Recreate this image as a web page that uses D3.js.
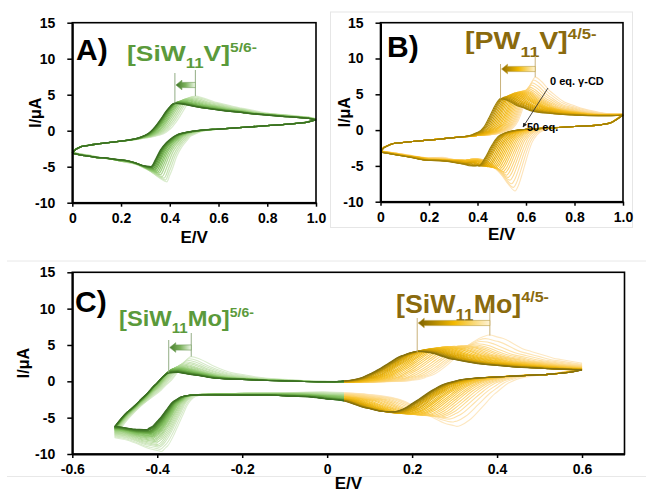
<!DOCTYPE html>
<html><head><meta charset="utf-8">
<script src="https://cdn.jsdelivr.net/npm/d3@7"></script>
<style>
html,body{margin:0;padding:0;background:#fff;}
svg{display:block;font-family:"Liberation Sans",Arial,sans-serif;}
</style></head><body>
<svg id="c" width="646" height="493"></svg>
<script>
// ================= DATA =================
const yTicks = [-10, -5, 0, 5, 10, 15];
const yTickLabels = ["-10", "-5", "0", "5", "10", "15"];
const xTicksAB = [0, 0.2, 0.4, 0.6, 0.8, 1.0];
const xTickLabelsAB = ["0", "0.2", "0.4", "0.6", "0.8", "1.0"];
const xTicksC = [-0.6, -0.4, -0.2, 0, 0.2, 0.4, 0.6];
const xTickLabelsC = ["-0.6", "-0.4", "-0.2", "0", "0.2", "0.4", "0.6"];

// Panel A  [SiW11V]5/6-  (0 eq -> 50 eq gamma-CD)
const A_oxE  = [0.505, 0.496, 0.487, 0.478, 0.469, 0.461, 0.454, 0.447, 0.441, 0.436, 0.432, 0.428, 0.425, 0.423, 0.421];
const A_oxI  = [4.8, 4.75, 4.65, 4.55, 4.45, 4.35, 4.25, 4.15, 4.07, 4.0, 3.95, 3.9, 3.85, 3.82, 3.8];
const A_redE = [0.388, 0.382, 0.376, 0.369, 0.362, 0.356, 0.350, 0.345, 0.340, 0.336, 0.332, 0.329, 0.326, 0.324, 0.322];
const A_redI = [-7.1, -6.85, -6.6, -6.35, -6.1, -5.9, -5.75, -5.6, -5.45, -5.35, -5.25, -5.15, -5.1, -5.05, -5.0];
const A_baseUp = [[0,-3.0],[0.015,-2.5],[0.04,-2.15],[0.1,-1.85],[0.2,-1.45],[0.3,-1.0],[0.4,-0.6],[0.5,-0.35],[0.6,-0.2],[0.7,-0.1],[0.8,-0.1],[0.9,-0.1],[0.97,-0.15],[1.0,-0.3]];
const A_baseDn = [[1.0,1.5],[0.96,1.15],[0.9,0.95],[0.8,0.7],[0.7,0.45],[0.6,0.22],[0.5,0.0],[0.4,-0.35],[0.3,-0.85],[0.2,-1.25],[0.1,-1.35],[0.03,-1.15],[0,-1.0]];

// Panel B  [PW11V]4/5-
const B_oxE  = [0.638,0.632,0.626,0.620,0.614,0.608,0.602,0.596,0.590,0.584,0.578,0.572,0.566,0.560,0.553,0.546,0.539,0.532,0.525,0.518,0.511,0.505,0.500,0.495];
const B_oxI  = [7.4,7.0,6.6,6.3,6.0,5.8,5.65,5.55,5.5,5.45,5.4,5.35,5.3,5.25,5.2,5.1,5.0,4.9,4.8,4.7,4.6,4.5,4.45,4.4];
const B_redE = [0.555,0.548,0.541,0.534,0.527,0.520,0.513,0.506,0.499,0.492,0.485,0.478,0.471,0.464,0.457,0.450,0.443,0.436,0.429,0.423,0.418,0.413,0.409,0.405];
const B_redI = [-8.5,-8.0,-7.5,-7.0,-6.6,-6.3,-6.0,-5.8,-5.6,-5.5,-5.4,-5.3,-5.25,-5.2,-5.15,-5.1,-5.1,-5.05,-5.0,-5.0,-5.0,-5.0,-5.0,-5.0];
const B_baseUp = [[0,-3.0],[0.015,-2.4],[0.05,-1.9],[0.1,-1.7],[0.2,-1.4],[0.3,-1.05],[0.4,-0.75],[0.5,-0.5],[0.6,-0.3],[0.7,-0.2],[0.8,-0.1],[0.9,0.0],[1.0,0.2]];
const B_baseDn = [[1.0,1.9],[0.95,1.0],[0.9,0.7],[0.8,0.5],[0.7,0.3],[0.6,0.1],[0.5,-0.2],[0.4,-0.7],[0.35,-1.4],[0.3,-1.7],[0.2,-2.0],[0.1,-1.7],[0.05,-1.5],[0,-1.3]];

// Panel C  [SiW11Mo]5/6- (green) and [SiW11Mo]4/5- (gold)
const Cg_oxE  = [-0.320,-0.325,-0.330,-0.334,-0.338,-0.342,-0.345,-0.348,-0.351,-0.353,-0.355,-0.357,-0.359,-0.361,-0.362,-0.364,-0.365,-0.366,-0.367,-0.368,-0.369,-0.370,-0.370,-0.371,-0.371,-0.372,-0.372,-0.373];
const Cg_oxI  = [3.4,3.1,2.9,2.7,2.55,2.4,2.3,2.2,2.1,2.0,1.95,1.9,1.85,1.8,1.75,1.7,1.65,1.6,1.55,1.5,1.45,1.42,1.38,1.35,1.3,1.27,1.23,1.2];
const Cg_redE = [-0.390,-0.393,-0.396,-0.398,-0.400,-0.402,-0.404,-0.406,-0.407,-0.409,-0.410,-0.411,-0.412,-0.413,-0.414,-0.415,-0.416,-0.417,-0.418,-0.419,-0.420,-0.420,-0.421,-0.422,-0.423,-0.423,-0.424,-0.425];
const Cg_redI = [-9.5,-9.2,-8.9,-8.7,-8.5,-8.3,-8.1,-7.95,-7.8,-7.65,-7.5,-7.4,-7.3,-7.2,-7.1,-7.0,-6.95,-6.9,-6.85,-6.8,-6.75,-6.7,-6.65,-6.6,-6.55,-6.5,-6.45,-6.4];
const Cy_oxE  = [0.383,0.372,0.362,0.352,0.342,0.333,0.324,0.315,0.307,0.299,0.291,0.284,0.277,0.270,0.264,0.258,0.252,0.247,0.242,0.237,0.233,0.229,0.225,0.222,0.219,0.216,0.214,0.212];
const Cy_oxI  = [6.3,5.8,5.4,5.1,4.95,4.85,4.8,4.8,4.75,4.75,4.7,4.7,4.65,4.6,4.55,4.5,4.45,4.4,4.35,4.3,4.25,4.2,4.15,4.1,4.08,4.05,4.02,4.0];
const Cy_redE = [0.305,0.296,0.287,0.278,0.269,0.261,0.253,0.245,0.238,0.231,0.224,0.218,0.212,0.206,0.200,0.195,0.190,0.185,0.181,0.177,0.173,0.170,0.167,0.164,0.162,0.160,0.158,0.156];
const Cy_redI = [-6.2,-5.6,-5.2,-5.0,-4.9,-4.85,-4.8,-4.75,-4.7,-4.7,-4.65,-4.6,-4.6,-4.55,-4.5,-4.5,-4.45,-4.4,-4.4,-4.35,-4.35,-4.3,-4.3,-4.25,-4.25,-4.2,-4.2,-4.2];
const C_baseUp = [[-0.5,-5.8],[-0.47,-3.9],[-0.44,-2.6],[-0.41,-1.6],[-0.38,-1.0],[-0.35,-0.7],[-0.3,-0.5],[-0.2,-0.35],[-0.1,-0.3],[0,-0.3],[0.1,-0.25],[0.2,-0.1],[0.3,0.1],[0.4,0.3],[0.5,0.5],[0.6,0.6]];
const C_baseDn = [[0.6,1.2],[0.55,1.05],[0.5,0.9],[0.4,0.6],[0.3,0.3],[0.2,0.0],[0.1,-0.4],[0,-0.8],[-0.1,-1.1],[-0.2,-1.35],[-0.3,-1.55],[-0.35,-1.7],[-0.4,-1.9],[-0.45,-2.2],[-0.5,-2.5]];

// wave shapes: [distance past peak along sweep (V), fraction of peak height]
const tOxA  = [[-0.2,0],[-0.15,0.03],[-0.12,0.09],[-0.1,0.18],[-0.08,0.33],[-0.06,0.52],[-0.035,0.78],[-0.015,0.95],[0,1],[0.03,0.96],[0.08,0.85],[0.18,0.7],[0.3,0.57],[0.45,0.47],[0.6,0.4]];
const tRedA = [[-0.2,0],[-0.14,0.03],[-0.1,0.1],[-0.08,0.2],[-0.06,0.32],[-0.04,0.5],[-0.02,0.78],[0,1],[0.03,0.93],[0.07,0.78],[0.12,0.65],[0.2,0.55],[0.32,0.48],[0.5,0.4]];
const tOxB  = [[-0.16,0],[-0.12,0.03],[-0.09,0.1],[-0.07,0.22],[-0.05,0.45],[-0.03,0.72],[-0.012,0.93],[0,1],[0.025,0.95],[0.06,0.8],[0.12,0.62],[0.2,0.52],[0.3,0.45],[0.45,0.39],[0.65,0.35]];
const tRedB = [[-0.16,0],[-0.12,0.03],[-0.09,0.1],[-0.07,0.22],[-0.05,0.45],[-0.03,0.72],[-0.012,0.93],[0,1],[0.025,0.93],[0.06,0.76],[0.12,0.6],[0.2,0.5],[0.3,0.43],[0.45,0.37],[0.65,0.33]];
const tOxCg = [[-0.09,0],[-0.07,0.08],[-0.05,0.25],[-0.03,0.55],[-0.015,0.83],[0,1],[0.02,0.93],[0.05,0.72],[0.1,0.45],[0.15,0.32],[0.22,0.22],[0.3,0.15],[0.4,0.1],[0.55,0.05],[0.8,0.02]];
const tRedCg= [[-0.1,0],[-0.08,0.04],[-0.06,0.2],[-0.045,0.45],[-0.03,0.7],[-0.015,0.9],[0,1],[0.03,0.95],[0.07,0.82],[0.12,0.72],[0.2,0.62]];
const tOxCy = [[-0.2,0],[-0.16,0.05],[-0.13,0.15],[-0.1,0.35],[-0.07,0.6],[-0.04,0.85],[-0.015,0.97],[0,1],[0.03,0.95],[0.08,0.72],[0.15,0.52],[0.22,0.4],[0.3,0.3],[0.4,0.22],[0.6,0.15]];
const tRedCy= [[-0.2,0],[-0.15,0.05],[-0.12,0.15],[-0.09,0.35],[-0.06,0.62],[-0.03,0.88],[-0.01,0.98],[0,1],[0.03,0.95],[0.07,0.78],[0.12,0.5],[0.2,0.3],[0.3,0.17],[0.45,0.08],[0.7,0.04]];
const wStartAB = [[0,1],[0.02,0.45],[0.05,0.12],[0.08,0]];
const wEndAB   = [[0.92,0],[0.95,0.15],[0.98,0.5],[1.0,1]];
const wStartC  = [[-0.5,1],[-0.46,0.6],[-0.42,0.3],[-0.38,0.1],[-0.34,0]];
const wEndC    = [[0.52,0],[0.55,0.15],[0.58,0.5],[0.6,1]];

// labels
const labA  = ["[SiW","11","V]","5/6-"];
const labB  = ["[PW","11","V]","4/5-"];
const labCg = ["[SiW","11","Mo]","5/6-"];
const labCy = ["[SiW","11","Mo]","4/5-"];
const labKinds = ["m","sub","m","sup"];
const panelLetters = ["A)","B)","C)"];
const eqLabels = ["0 eq. \u03b3-CD","50 eq."];

// colours
const greenStops = ["#dcedd0","#b5da9c","#86c264","#5e9c3c","#3a6f22"];
const goldStopsB = ["#fde4bb","#fcd274","#f7bf26","#e3a902","#a08008"];
const goldStopsC = ["#fde8c2","#fcd474","#f6c022","#d8a402","#85700e"];
const greenText = "#5b9a3b", goldText = "#8a6a0e";

// ================= DRAW =================
const svg = d3.select("#c");
const defs = svg.append("defs");

function pl(pts){
  const s = pts.slice().sort((a,b)=>a[0]-b[0]);
  return d3.scaleLinear().domain(s.map(p=>p[0])).range(s.map(p=>p[1])).clamp(true);
}
function mkWave(w, i, base){
  const Ep = w.E[i], Ip = w.I[i], h = Ip - base(Ep), f = pl(w.t);
  return {
    val(E, dir){ const s=(E-Ep)*dir; const m = s<=0 ? h : h + (w.hT-h)*Math.min(1, s/w.blend); return m*f(s); },
    keys(dir){ return w.t.map(p => Ep + p[0]*dir); }
  };
}
function keyset(lo, hi, lists){
  let all = [lo, hi].concat(...lists).filter(e => e>=lo && e<=hi).sort((a,b)=>a-b);
  const out = [];
  all.forEach(e => { if(!out.length || e - out[out.length-1] > 0.002) out.push(e); });
  out[out.length-1] = hi;
  return out;
}
function buildCurves(P){
  const n = P.ox[0].E.length;
  const bU = pl(P.baseUp), bD = pl(P.baseDn), wS = pl(P.wStart), wE = pl(P.wEnd);
  const res = [];
  for(let i=0;i<n;i++){
    const oxW = P.ox.map(w => mkWave(w, i, bU));
    const rdW = P.red.map(w => mkWave(w, i, bD));
    const U0 = E => bU(E) + d3.sum(oxW, w => w.val(E, 1));
    const D0 = E => bD(E) + d3.sum(rdW, w => w.val(E, -1));
    const Uhi = U0(P.hi);
    const D = E => D0(E) + (Uhi - D0(P.hi)) * wE(E);
    const Llo = D(P.lo);
    const U = E => U0(E) + (Llo - U0(P.lo)) * wS(E);
    const kU = keyset(P.lo, P.hi, [P.baseUp.map(p=>p[0]), P.wStart.map(p=>p[0]), P.wEnd.map(p=>p[0]), ...oxW.map(w=>w.keys(1))]);
    const kD = keyset(P.lo, P.hi, [P.baseDn.map(p=>p[0]), P.wStart.map(p=>p[0]), P.wEnd.map(p=>p[0]), ...rdW.map(w=>w.keys(-1))]);
    res.push({up: kU.map(E=>[E,U(E)]), dn: kD.map(E=>[E,D(E)])});
  }
  return res;
}
function colorScale(stops, n){
  return d3.scaleLinear().domain(stops.map((s,k)=>k/(stops.length-1)*(n-1))).range(stops).interpolate(d3.interpolateRgb);
}

function axes(x, y, box, xt, xl){
  const gx = svg.append("g").attr("transform",`translate(0,${box.b})`)
    .call(d3.axisBottom(x).tickValues(xt).tickFormat((d,i)=>xl[i]).tickSize(4).tickSizeOuter(0).tickPadding(6));
  const gy = svg.append("g").attr("transform",`translate(${box.l},0)`)
    .call(d3.axisLeft(y).tickValues(yTicks).tickFormat((d,i)=>yTickLabels[i]).tickSize(5).tickSizeOuter(0).tickPadding(12));
  [gx,gy].forEach(g=>{
    g.attr("font-family",null).attr("font-size",null);
    g.select(".domain").attr("stroke","#000").attr("stroke-width",2);
    g.selectAll(".tick line").attr("stroke","#000").attr("stroke-width",1.5);
    g.selectAll(".tick text").attr("fill","#000").attr("font-size",14).attr("font-weight","bold");
  });
  svg.append("rect").attr("x",box.l).attr("y",box.t).attr("width",box.r-box.l).attr("height",box.b-box.t)
    .attr("fill","none").attr("stroke","#000").attr("stroke-width",1.6);
}
function titles(box, yx, ey){
  svg.append("text").attr("x",(box.l+box.r)/2).attr("y",ey).attr("text-anchor","middle")
    .attr("font-size",17).attr("font-weight","bold").text("E/V");
  svg.append("text").attr("transform",`translate(${yx},${(box.t+box.b)/2}) rotate(-90)`).attr("text-anchor","middle")
    .attr("font-size",16).attr("font-weight","bold").text("I/\u03bcA");
}
function drawCurves(g, curves, x, y, col, sw){
  const line = d3.line().x(d=>x(d[0])).y(d=>y(d[1])).curve(d3.curveMonotoneX);
  curves.forEach((c,i)=>{
    g.append("path").attr("d",line(c.up)).attr("fill","none").attr("stroke",col(i)).attr("stroke-width",sw);
    g.append("path").attr("d",line(c.dn)).attr("fill","none").attr("stroke",col(i)).attr("stroke-width",sw);
  });
}
function compLabel(x, base, parts, fs, color, targetW){
  const dy = {m:0, sub:Math.round(fs*0.33), sup:-Math.round(fs*0.42)};
  const sz = {m:fs, sub:Math.round(fs*0.62), sup:Math.round(fs*0.6)};
  const g = svg.append("g");
  const t = g.append("text").attr("x",0).attr("fill",color).attr("font-weight","bold");
  parts.forEach((p,k)=> t.append("tspan").attr("y",base+dy[labKinds[k]]).attr("font-size",sz[labKinds[k]]).text(p));
  const w = t.node().getBBox().width;
  g.attr("transform",`translate(${x},0) scale(${targetW/w},1)`);
}
let gradId = 0;
function blockArrow(xTip, xEnd, yc, stops, stroke){
  const id = "ag"+(gradId++);
  const gr = defs.append("linearGradient").attr("id",id).attr("gradientUnits","userSpaceOnUse")
    .attr("x1",xTip).attr("x2",xEnd).attr("y1",0).attr("y2",0);
  stops.forEach((c,k)=>gr.append("stop").attr("offset",k/(stops.length-1)).attr("stop-color",c));
  const L=6, hh=4.8, sh=2.6;
  const pts = [[xTip,yc],[xTip+L,yc-hh],[xTip+L,yc-sh],[xEnd,yc-sh],[xEnd,yc+sh],[xTip+L,yc+sh],[xTip+L,yc+hh]];
  svg.append("path").attr("d","M"+pts.map(p=>p.join(",")).join("L")+"Z")
    .attr("fill",`url(#${id})`).attr("stroke",stroke).attr("stroke-width",0.6);
}
function vline(xp, y1, y2, color){
  svg.append("line").attr("x1",xp).attr("x2",xp).attr("y1",y1).attr("y2",y2).attr("stroke",color).attr("stroke-width",1);
}

// ---- frames of sub-images ----
svg.append("rect").attr("x",330.5).attr("y",12).attr("width",302).attr("height",215.5).attr("fill","none").attr("stroke","#e6e6e6").attr("stroke-width",1);
svg.append("line").attr("x1",7).attr("x2",646).attr("y1",261).attr("y2",261).attr("stroke","#e8e8e8");
svg.append("line").attr("x1",7).attr("x2",646).attr("y1",476.5).attr("y2",476.5).attr("stroke","#e8e8e8");

// ---- Panel A ----
const boxA = {l:72.3, r:316, t:22.7, b:202.7};
const xA = d3.scaleLinear().domain([0,1]).range([boxA.l,boxA.r]);
const yA = d3.scaleLinear().domain([-10,15]).range([boxA.b,boxA.t]);
const curvesA = buildCurves({lo:0, hi:1, baseUp:A_baseUp, baseDn:A_baseDn, wStart:wStartAB, wEnd:wEndAB,
  ox:[{E:A_oxE,I:A_oxI,t:tOxA,hT:4.4,blend:0.3}], red:[{E:A_redE,I:A_redI,t:tRedA,hT:-4.45,blend:0.3}]});
drawCurves(svg.append("g"), curvesA, xA, yA, colorScale(greenStops, A_oxE.length), 1.3);
axes(xA, yA, boxA, xTicksAB, xTickLabelsAB);
titles(boxA, 41, 243);
svg.append("text").attr("x",76).attr("y",60).attr("font-size",30).attr("font-weight","bold").text(panelLetters[0]);
compLabel(127, 61, labA, 22, greenText, 130);
vline(xA(A_oxE[A_oxE.length-1]), 73, yA(A_oxI[A_oxI.length-1]), "#93ad85");
vline(xA(A_oxE[0]), 70, yA(A_oxI[0]), "#93ad85");
blockArrow(xA(A_oxE[A_oxE.length-1])+1, xA(A_oxE[0]), 85, ["#3f7426","#7db35e","#eef7e8"], "#6d9a55");

// ---- Panel B ----
const boxB = {l:380.5, r:623, t:22.7, b:201.7};
const xB = d3.scaleLinear().domain([0,1]).range([boxB.l,boxB.r]);
const yB = d3.scaleLinear().domain([-10,15]).range([boxB.b,boxB.t]);
const curvesB = buildCurves({lo:0, hi:1, baseUp:B_baseUp, baseDn:B_baseDn, wStart:wStartAB, wEnd:wEndAB,
  ox:[{E:B_oxE,I:B_oxI,t:tOxB,hT:4.9,blend:0.3}], red:[{E:B_redE,I:B_redI,t:tRedB,hT:-4.6,blend:0.3}]});
drawCurves(svg.append("g"), curvesB, xB, yB, colorScale(goldStopsB, B_oxE.length), 1.1);
axes(xB, yB, boxB, xTicksAB, xTickLabelsAB);
titles(boxB, 350, 240);
svg.append("text").attr("x",387).attr("y",57).attr("font-size",30).attr("font-weight","bold").text(panelLetters[1]);
compLabel(465, 49, labB, 24, goldText, 132);
vline(xB(B_oxE[B_oxE.length-1]), 64, yB(B_oxI[B_oxI.length-1]), "#c9b27a");
vline(xB(B_oxE[0]), 56, yB(B_oxI[0]), "#c9b27a");
blockArrow(xB(B_oxE[B_oxE.length-1])+1, xB(B_oxE[0]), 69, ["#8f6c00","#f0b800","#fff3d6"], "#b89a3a");
svg.append("text").attr("x",550).attr("y",85).attr("font-size",11).attr("font-weight","bold").text(eqLabels[0]);
svg.append("text").attr("x",527).attr("y",131).attr("font-size",11).attr("font-weight","bold").text(eqLabels[1]);
defs.append("marker").attr("id","ah").attr("viewBox","0 0 10 10").attr("refX",9).attr("refY",5)
  .attr("markerWidth",5).attr("markerHeight",5).attr("orient","auto")
  .append("path").attr("d","M0,0L10,5L0,10Z").attr("fill","#222");
svg.append("line").attr("x1",548).attr("y1",88).attr("x2",523).attr("y2",127).attr("stroke","#333").attr("stroke-width",0.9).attr("marker-end","url(#ah)");

// ---- Panel C ----
const boxC = {l:72.3, r:624.5, t:272.3, b:454};
const xC = d3.scaleLinear().domain([-0.6,0.7]).range([boxC.l,boxC.r]);
const yC = d3.scaleLinear().domain([-10,15]).range([boxC.b,boxC.t]);
const curvesC = buildCurves({lo:-0.5, hi:0.6, baseUp:C_baseUp, baseDn:C_baseDn, wStart:wStartC, wEnd:wEndC,
  ox:[{E:Cg_oxE,I:Cg_oxI,t:tOxCg,hT:2.1,blend:0.3},{E:Cy_oxE,I:Cy_oxI,t:tOxCy,hT:4.0,blend:0.3}],
  red:[{E:Cg_redE,I:Cg_redI,t:tRedCg,hT:-4.3,blend:0.5},{E:Cy_redE,I:Cy_redI,t:tRedCy,hT:-4.0,blend:0.3}]});
const splitE = 0.04;
defs.append("clipPath").attr("id","clipG").append("rect").attr("x",0).attr("y",0).attr("width",xC(splitE)).attr("height",493);
defs.append("clipPath").attr("id","clipY").append("rect").attr("x",xC(splitE)).attr("y",0).attr("width",646).attr("height",493);
drawCurves(svg.append("g").attr("clip-path","url(#clipG)"), curvesC, xC, yC, colorScale(greenStops, Cg_oxE.length), 1.1);
drawCurves(svg.append("g").attr("clip-path","url(#clipY)"), curvesC, xC, yC, colorScale(goldStopsC, Cy_oxE.length), 1.1);
axes(xC, yC, boxC, xTicksC, xTickLabelsC);
titles(boxC, 29, 489);
svg.append("text").attr("x",75).attr("y",312).attr("font-size",30).attr("font-weight","bold").text(panelLetters[2]);
compLabel(119, 326, labCg, 22, greenText, 135);
compLabel(396, 313, labCy, 25, goldText, 153);
vline(xC(Cg_oxE[Cg_oxE.length-1]), 340, yC(Cg_oxI[Cg_oxI.length-1]), "#93ad85");
vline(xC(Cg_oxE[0]), 333, yC(Cg_oxI[0]), "#93ad85");
blockArrow(xC(Cg_oxE[Cg_oxE.length-1])+1, xC(Cg_oxE[0]), 347.5, ["#4a7f2e","#7db35e","#eef7e8"], "#6d9a55");
vline(xC(Cy_oxE[Cy_oxE.length-1]), 318, yC(Cy_oxI[Cy_oxI.length-1]), "#c9b27a");
vline(xC(Cy_oxE[0]), 306, yC(Cy_oxI[0]), "#c9b27a");
blockArrow(xC(Cy_oxE[Cy_oxE.length-1])+1, xC(Cy_oxE[0]), 323, ["#7d6200","#f2b800","#fff3d6"], "#b89a3a");
</script></body></html>
